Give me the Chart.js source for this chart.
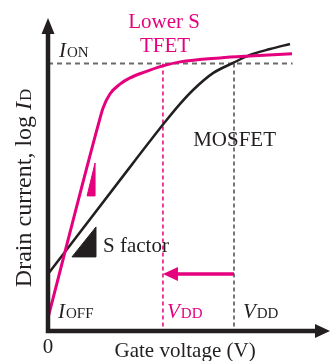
<!DOCTYPE html>
<html>
<head>
<meta charset="utf-8">
<script src="https://cdn.jsdelivr.net/npm/chart.js@4/dist/chart.umd.min.js"></script>
<style>
  body { margin: 0; background: #fff; }
  #wrap { width: 330px; height: 361px; }
</style>
</head>
<body>
<div id="wrap"><canvas id="myChart"></canvas></div>
<script>
// gate voltage (V) and log drain current (decades)
const tfetVoltage = [0, 0.274, 0.296, 0.333, 0.387, 0.441, 0.511, 0.618, 0.71, 0.925, 1.086, 1.312];
const tfetLogCurrent = [0.49, 7.81, 8.34, 8.86, 9.23, 9.46, 9.66, 9.91, 10.06, 10.21, 10.28, 10.36];
const mosfetVoltage = [0, 0.387, 0.629, 0.71, 0.78, 0.887, 0.995, 1.086, 1.194, 1.301];
const mosfetLogCurrent = [2.13, 5.64, 7.81, 8.49, 9.01, 9.64, 10.02, 10.32, 10.54, 10.73];

const ionLevel = 10;
const ionLineEnd = 1.315;
const vddTfet = 0.618;
const vddMosfet = 1.0;
const arrowLevel = 2.13;

// slope markers (voltage, log current)
const sFactorVoltage = [0.129, 0.258, 0.258, 0.129];
const sFactorCurrent = [2.77, 2.77, 3.89, 2.77];
const tfetSlopeVoltage = [0.21, 0.253, 0.253, 0.21];
const tfetSlopeCurrent = [5.05, 5.05, 6.28, 5.05];

const pink = "#e5007e";
const ink = "#231f20";
const serif = "'Liberation Serif', 'Times New Roman', serif";

function toPoints(xs, ys) {
  return xs.map((v, i) => ({ x: v, y: ys[i] }));
}

function lineSet(points, color, width, dash) {
  return {
    data: points,
    borderColor: color,
    borderWidth: width,
    borderDash: dash || [],
    pointRadius: 0,
    fill: false,
    tension: 0,
  };
}

const datasets = [
  {
    data: toPoints(tfetVoltage, tfetLogCurrent),
    borderColor: pink,
    borderWidth: 3,
    pointRadius: 0,
    cubicInterpolationMode: "monotone",
    fill: false,
  },
  {
    data: toPoints(mosfetVoltage, mosfetLogCurrent),
    borderColor: ink,
    borderWidth: 2.5,
    pointRadius: 0,
    cubicInterpolationMode: "monotone",
    fill: false,
  },
  lineSet([{ x: 0, y: ionLevel }, { x: ionLineEnd, y: ionLevel }], "#6b6b6b", 2, [5, 4]),
  lineSet([{ x: vddTfet, y: ionLevel }, { x: vddTfet, y: 0 }], pink, 1.5, [4, 3]),
  lineSet([{ x: vddMosfet, y: ionLevel }, { x: vddMosfet, y: 0 }], "#4a4a4a", 1.5, [4, 3]),
  lineSet([{ x: vddMosfet, y: arrowLevel }, { x: vddTfet + 0.06, y: arrowLevel }], pink, 3.5),
  {
    data: toPoints(sFactorVoltage, sFactorCurrent),
    borderColor: ink,
    backgroundColor: ink,
    borderWidth: 1,
    pointRadius: 0,
    tension: 0,
    fill: "shape",
  },
  {
    data: toPoints(tfetSlopeVoltage, tfetSlopeCurrent),
    borderColor: pink,
    backgroundColor: pink,
    borderWidth: 1,
    pointRadius: 0,
    tension: 0,
    fill: "shape",
  },
];

function drawSub(ctx, px, py, main, sub, color, size) {
  ctx.fillStyle = color;
  ctx.font = "italic " + size + "px " + serif;
  ctx.fillText(main, px, py);
  const w = ctx.measureText(main).width;
  ctx.font = Math.round(size * 0.72) + "px " + serif;
  ctx.fillText(sub, px + w + 1, py);
}

const sketchPlugin = {
  id: "sketch",
  afterDatasetsDraw(chart) {
    const ctx = chart.ctx;
    const x = chart.scales.x;
    const y = chart.scales.y;
    const area = chart.chartArea;
    const x0 = x.getPixelForValue(0);
    const y0 = y.getPixelForValue(0);

    ctx.save();
    // axes with arrowheads
    ctx.strokeStyle = ink;
    ctx.fillStyle = ink;
    ctx.lineWidth = 4.5;
    ctx.beginPath();
    ctx.moveTo(x0, y0 + 2.25);
    ctx.lineTo(x0, area.top + 12);
    ctx.moveTo(x0 - 2.25, y0);
    ctx.lineTo(area.right - 12, y0);
    ctx.stroke();
    ctx.beginPath();
    ctx.moveTo(x0, area.top);
    ctx.lineTo(x0 - 6.5, area.top + 16);
    ctx.lineTo(x0 + 6.5, area.top + 16);
    ctx.closePath();
    ctx.fill();
    ctx.beginPath();
    ctx.moveTo(area.right, y0);
    ctx.lineTo(area.right - 15, y0 - 7);
    ctx.lineTo(area.right - 15, y0 + 7);
    ctx.closePath();
    ctx.fill();

    // arrow head of the VDD shift
    const ax = x.getPixelForValue(vddTfet);
    const ay = y.getPixelForValue(arrowLevel);
    ctx.fillStyle = pink;
    ctx.beginPath();
    ctx.moveTo(ax, ay);
    ctx.lineTo(ax + 15, ay - 7);
    ctx.lineTo(ax + 15, ay + 7);
    ctx.closePath();
    ctx.fill();

    // texts
    ctx.textBaseline = "alphabetic";
    ctx.font = "21px " + serif;
    ctx.textAlign = "center";
    ctx.fillStyle = pink;
    ctx.fillText("Lower S", x.getPixelForValue(0.624), y.getPixelForValue(11.33));
    ctx.fillText("TFET", x.getPixelForValue(0.629), y.getPixelForValue(10.43));
    ctx.fillStyle = ink;
    ctx.fillText("MOSFET", x.getPixelForValue(1.003), y.getPixelForValue(6.92));
    ctx.fillText("0", x.getPixelForValue(0), y.getPixelForValue(-0.82));
    ctx.fillText("Gate voltage (V)", x.getPixelForValue(0.737), y.getPixelForValue(-0.97));
    ctx.textAlign = "left";
    ctx.fillText("S factor", x.getPixelForValue(0.296), y.getPixelForValue(2.95));

    drawSub(ctx, x.getPixelForValue(0.059), y.getPixelForValue(10.24), "I", "ON", ink, 21);
    drawSub(ctx, x.getPixelForValue(0.054), y.getPixelForValue(0.486), "I", "OFF", ink, 21);
    drawSub(ctx, x.getPixelForValue(0.64), y.getPixelForValue(0.486), "V", "DD", pink, 21);
    drawSub(ctx, x.getPixelForValue(1.048), y.getPixelForValue(0.486), "V", "DD", ink, 21);

    // rotated y title
    ctx.translate(x.getPixelForValue(-0.091), y.getPixelForValue(5.35));
    ctx.rotate(-Math.PI / 2);
    const size = 24;
    ctx.font = size + "px " + serif;
    const partA = "Drain current, log ";
    const wA = ctx.measureText(partA).width;
    ctx.font = "italic " + size + "px " + serif;
    const wI = ctx.measureText("I").width;
    ctx.font = Math.round(size * 0.72) + "px " + serif;
    const wD = ctx.measureText("D").width;
    let start = -(wA + wI + 1 + wD) / 2;
    ctx.fillStyle = ink;
    ctx.font = size + "px " + serif;
    ctx.fillText(partA, start, 0);
    drawSub(ctx, start + wA, 0, "I", "D", ink, size);
    ctx.restore();
  },
};

const myChart = new Chart(document.getElementById("myChart"), {
  type: "line",
  data: { datasets },
  options: {
    responsive: true,
    maintainAspectRatio: false,
    animation: false,
    layout: { padding: { left: 48, right: 0, top: 18, bottom: 30 } },
    scales: {
      x: { type: "linear", min: 0, max: 282 / 186, display: false },
      y: { type: "linear", min: 0, max: 313 / 26.75, display: false },
    },
    plugins: {
      legend: { display: false },
      tooltip: { enabled: false },
    },
  },
  plugins: [sketchPlugin],
});
</script>
</body>
</html>
